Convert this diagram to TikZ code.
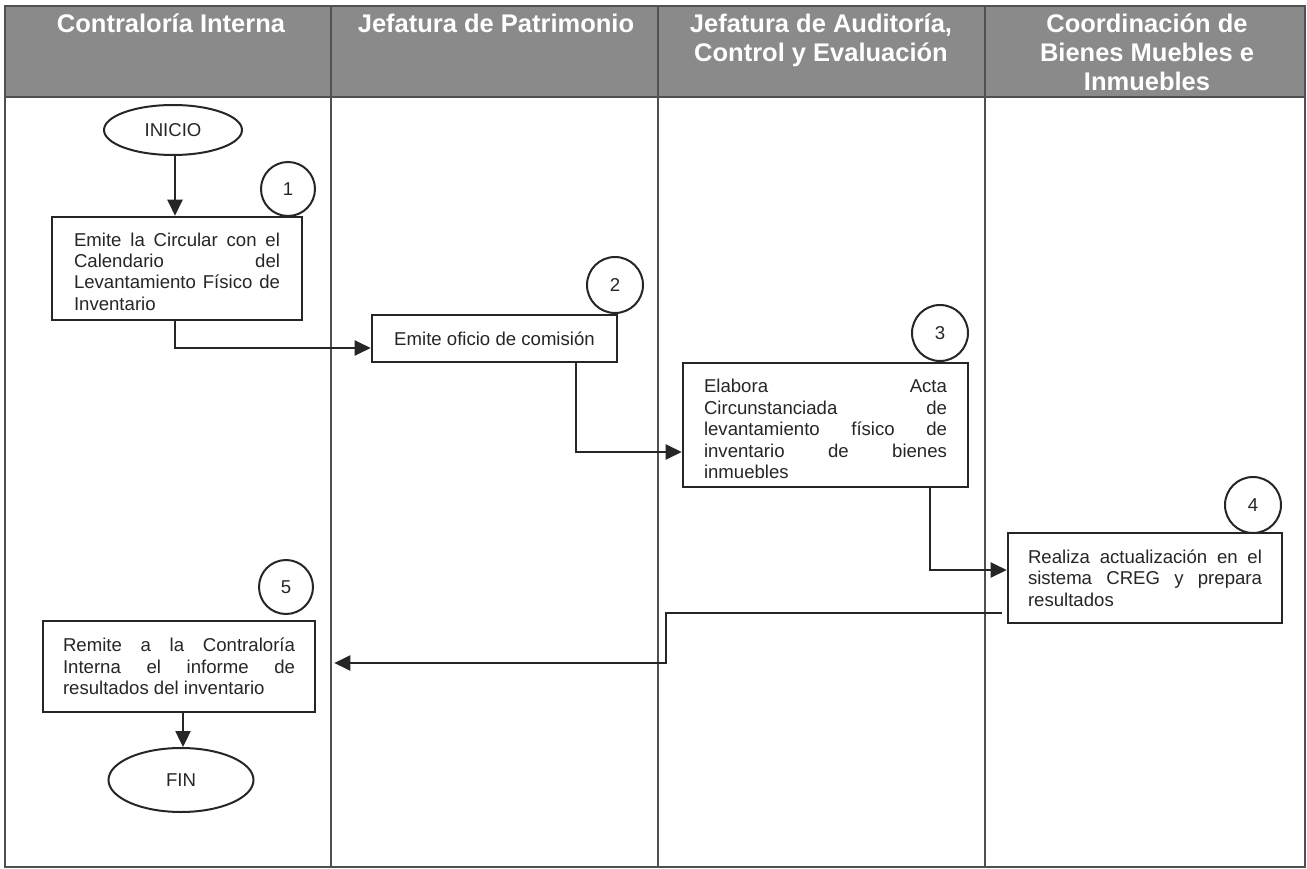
\documentclass[tikz,border=0pt]{standalone}
\usepackage{fontspec}
\setmainfont{Liberation Sans}
\usetikzlibrary{arrows.meta,shapes.geometric}

\definecolor{hdrgray}{HTML}{8A8A8A}
\definecolor{ink}{HTML}{262626}
\definecolor{lanegray}{HTML}{505050}

\begin{document}
\begin{tikzpicture}[x=1pt,y=-1pt,
  every node/.style={font=\fontsize{18.6}{21.4}\selectfont, text=ink},
  stepbox/.style={draw=ink, line width=2.6pt, fill=white, inner sep=0pt, align=justify},
  numcircle/.style={circle, draw=ink, line width=2pt, minimum size=56pt, inner sep=0pt, fill=white},
  terminal/.style={ellipse, draw=ink, line width=2pt, inner sep=0pt, fill=white},
  flow/.style={draw=ink, line width=2.4pt, -{Triangle[length=16pt,width=15pt]}},
  lane/.style={draw=lanegray, line width=1.8pt},
  lanetitle/.style={font=\fontsize{25.5}{29.3}\selectfont\bfseries, text=white, align=center, anchor=north, inner sep=0pt},
]
\useasboundingbox (0,0) rectangle (1307,869);
\fill[white] (0,0) rectangle (1307,869);

% swimlane header band and lane borders
\fill[hdrgray] (5,6) rectangle (1305,97);
\draw[lane] (5,6) rectangle (1305,867);
\draw[lane] (5,97) -- (1305,97);
\foreach \x in {331,658,985} \draw[lane] (\x,6) -- (\x,867);

% lane titles
\node[lanetitle] (h1) at (171,8) {\rule{0pt}{24pt}Contraloría Interna};
\node[lanetitle] (h2) at (496,8) {\rule{0pt}{24pt}Jefatura de Patrimonio};
\node[lanetitle] (h3) at (821,8) {\rule{0pt}{24pt}Jefatura de Auditoría,\\Control y Evaluación};
\node[lanetitle] (h4) at (1147,8) {\rule{0pt}{24pt}Coordinación de\\Bienes Muebles e\\Inmuebles};

% start and end
\node[terminal, minimum width=138pt, minimum height=50pt] (inicio) at (173,130) {INICIO};
\node[terminal, minimum width=145pt, minimum height=64pt] (fin) at (181,780) {FIN};

% process steps
\node[stepbox, minimum width=250pt, minimum height=103pt, text width=206pt] (s1) at (177,268.5)
  {\rule{0pt}{19.6pt}Emite la Circular con el\linebreak Calendario del\linebreak Levantamiento Físico de\linebreak Inventario};
\node[stepbox, align=center, minimum width=245pt, minimum height=47pt] (s2) at (494.5,338.5)
  {Emite oficio de comisión};
\node[stepbox, minimum width=285pt, minimum height=124pt, text width=243pt] (s3) at (825.5,425)
  {\rule{0pt}{21.6pt}Elabora Acta\linebreak Circunstanciada de\linebreak levantamiento físico de\linebreak inventario de bienes\linebreak inmuebles};
\node[stepbox, minimum width=274pt, minimum height=90pt, text width=234pt] (s4) at (1145,578)
  {Realiza actualización en el\linebreak sistema CREG y prepara\linebreak resultados};
\node[stepbox, minimum width=272pt, minimum height=91pt, text width=232pt] (s5) at (179,666.5)
  {Remite a la Contraloría\linebreak Interna el informe de\linebreak resultados del inventario};

% step numbers
\node[numcircle, minimum size=54pt] (n1) at (288,189) {1};
\node[numcircle] (n2) at (615,285) {2};
\node[numcircle] (n3) at (940,333) {3};
\node[numcircle] (n4) at (1253,505) {4};
\node[numcircle, minimum size=54pt] (n5) at (286,587) {5};

% connectors
\draw[flow] ([xshift=2pt]inicio.south) -- ([xshift=2pt]inicio.south |- s1.north);
\draw[flow] ([xshift=-2pt]s1.south) |- ([yshift=-9.5pt]s2.west);
\draw[flow] ([xshift=81.5pt]s2.south) |- ([yshift=-27pt]s3.west);
\draw[flow] ([xshift=104.5pt]s3.south) |- ([yshift=8pt]s4.west);
\coordinate (r4) at ([xshift=-5pt,yshift=-35pt]s4.west);
\coordinate (r5) at ([xshift=18pt,yshift=3.5pt]s5.east);
\draw[flow] (r4) -- ++(-336,0) |- (r5);
\draw[flow] ([xshift=2pt]s5.south -| fin) -- ([xshift=2pt]fin.north);
\end{tikzpicture}
\end{document}
